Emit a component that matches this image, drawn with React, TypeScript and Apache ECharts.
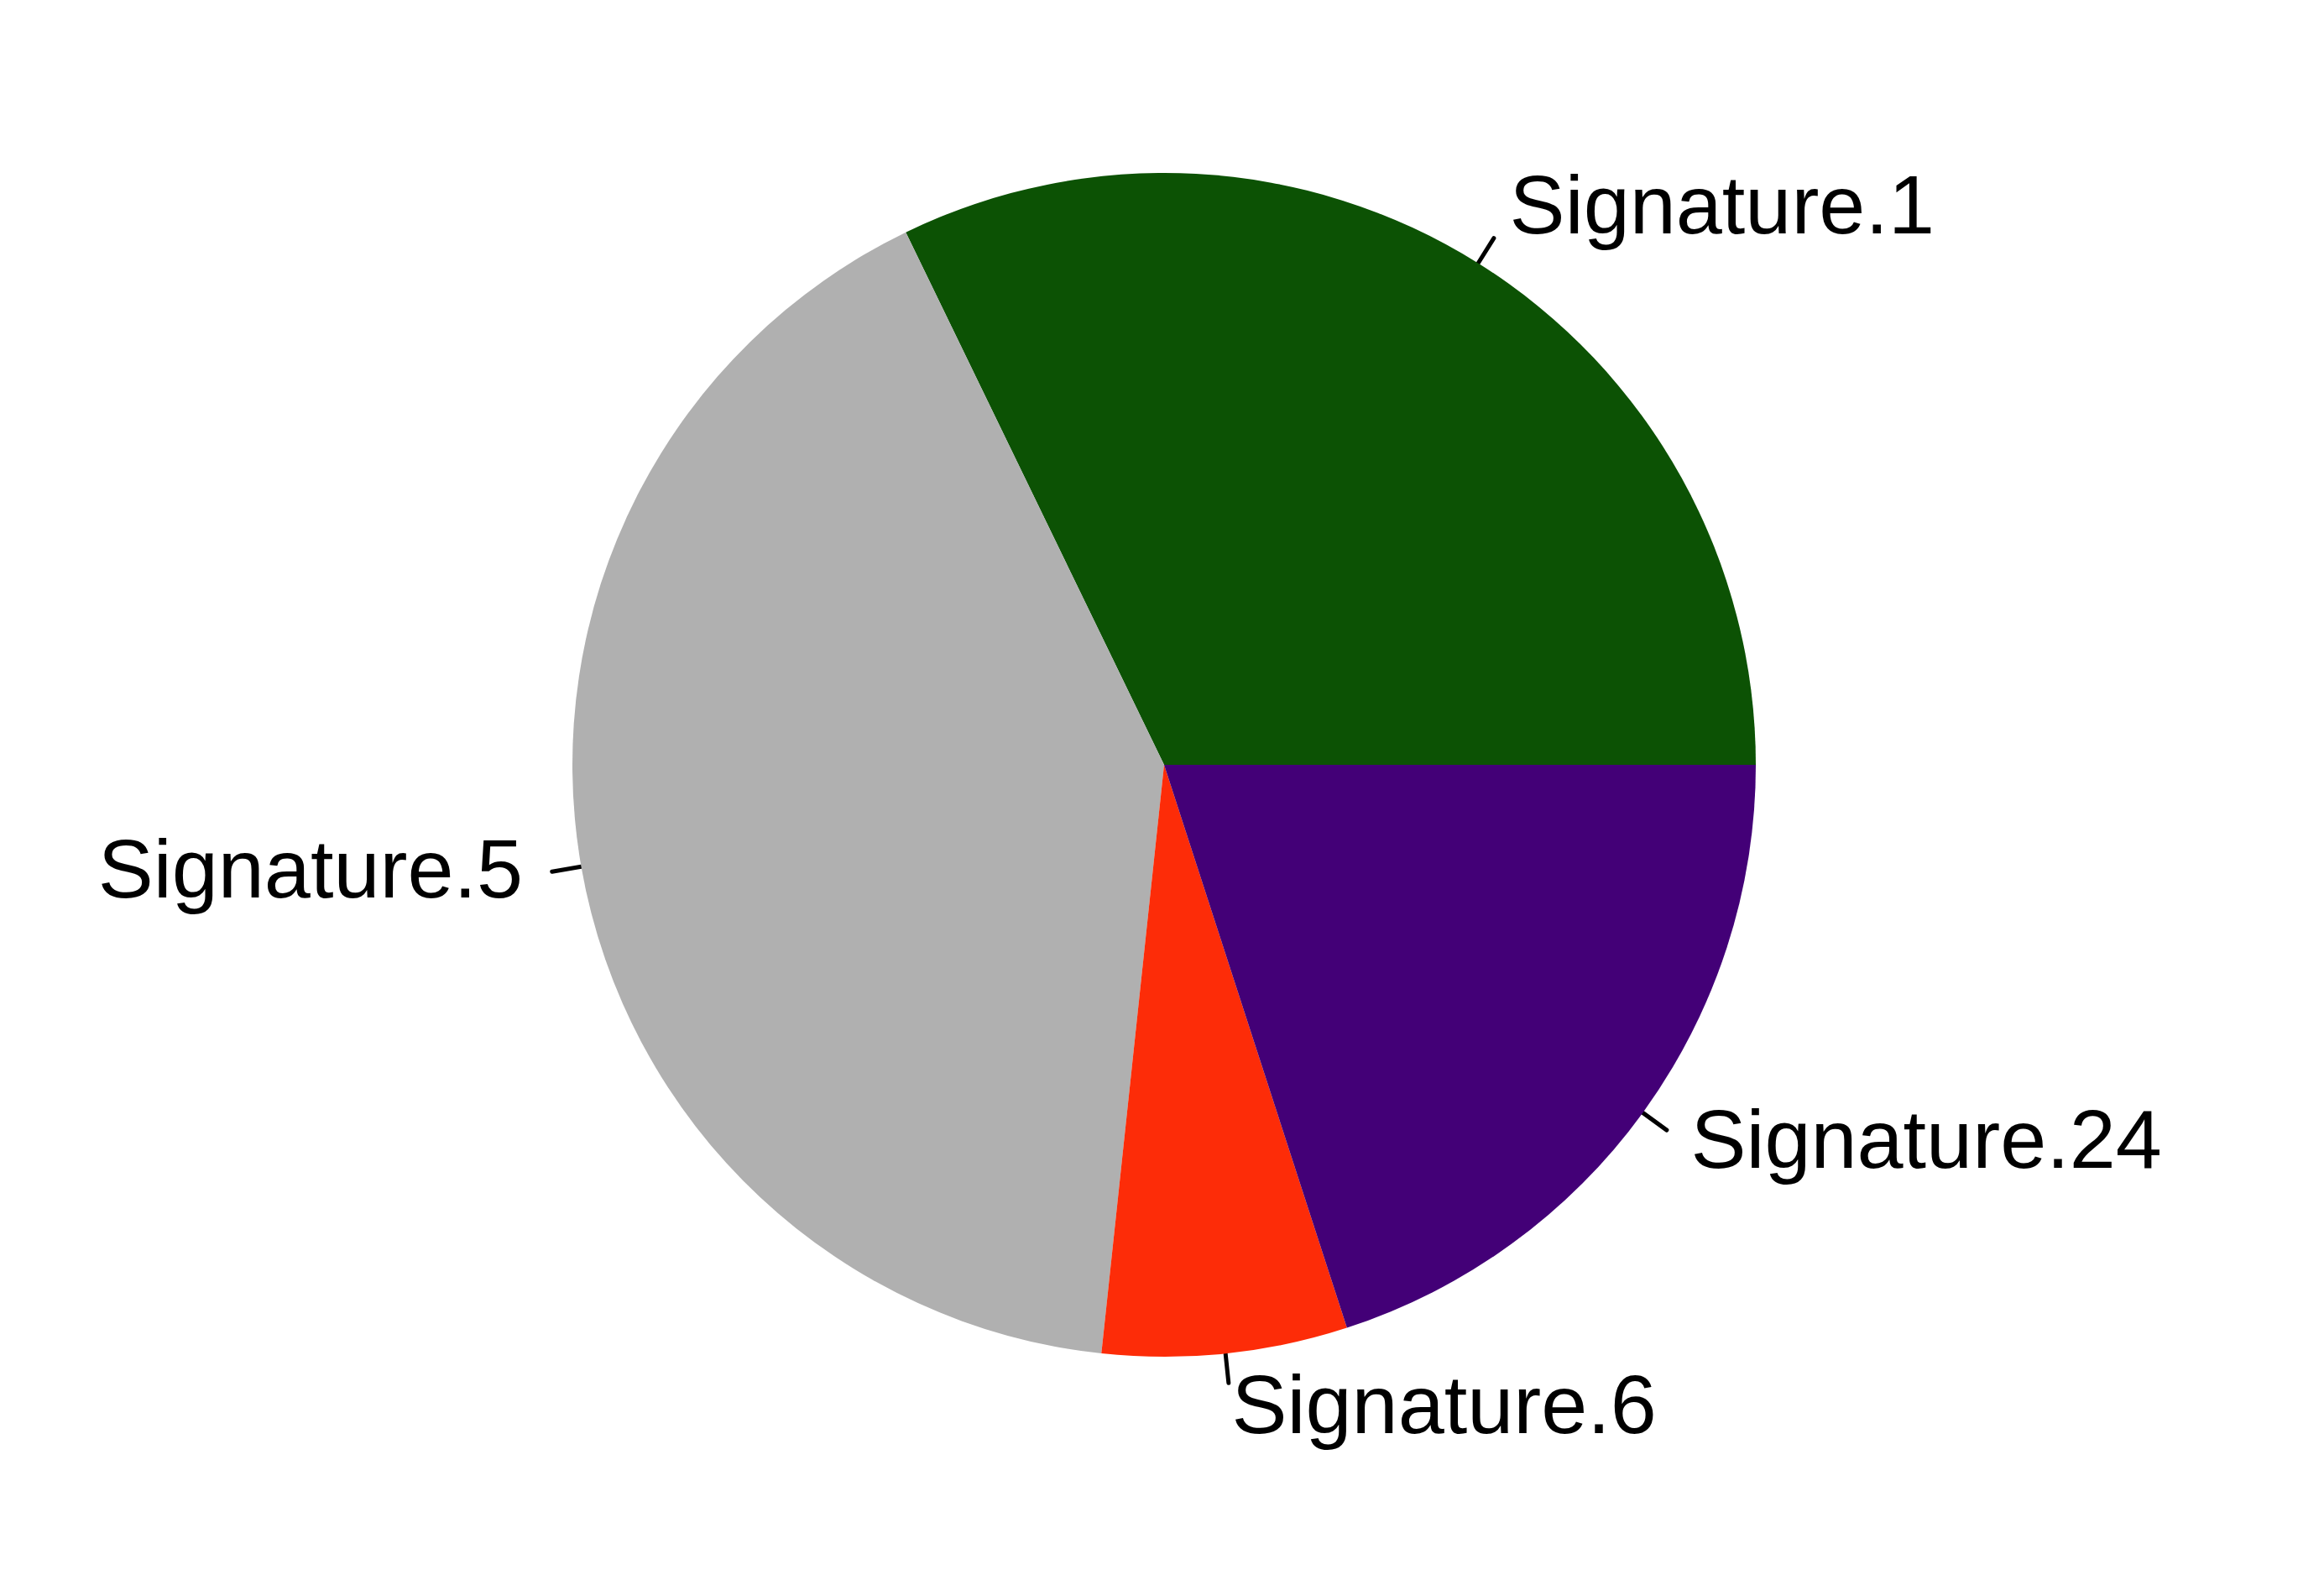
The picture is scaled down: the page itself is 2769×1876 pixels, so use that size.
import React, { useEffect, useRef } from "react";
import * as echarts from "echarts";

const categories = ["Signature.1", "Signature.5", "Signature.6", "Signature.24"];
const values = [32.19, 41.12, 6.69, 20.0];
const colors = ["#0C5204", "#B0B0B0", "#FD2C08", "#430077"];

const W = 2769;
const H = 1876;
const CX = 1387;
const CY = 911;
const R = 705;

export default function App() {
  const ref = useRef<HTMLDivElement>(null);
  useEffect(() => {
    document.body.style.margin = "0";
    if (!ref.current) return;
    const chart = echarts.init(ref.current, null, { renderer: "svg" });
    const total = values.reduce((a, b) => a + b, 0);
    const mids: number[] = [];
    let cum = 0;
    values.forEach((v) => {
      mids.push(((cum + v / 2) / total) * Math.PI * 2);
      cum += v;
    });
    chart.setOption({
      animation: false,
      backgroundColor: "#ffffff",
      series: [
        {
          type: "pie",
          center: [CX, CY],
          radius: [0, R],
          startAngle: 0,
          clockwise: false,
          avoidLabelOverlap: false,
          data: categories.map((name, i) => ({
            name,
            value: values[i],
            itemStyle: { color: colors[i] },
          })),
          itemStyle: { borderWidth: 0 },
          emphasis: { disabled: true },
          label: {
            show: true,
            position: "outside",
            formatter: "{b}",
            color: "#000000",
            fontSize: 99,
            fontFamily: "'Liberation Sans', Arial, sans-serif",
          },
          labelLine: {
            show: true,
            length: 35,
            length2: 0,
            lineStyle: { color: "#000000", width: 5, cap: "round" },
          },
          labelLayout: (params: any) => {
            const a = mids[params.dataIndex];
            const c = Math.cos(a);
            const s = Math.sin(a);
            return {
              x: CX + 1.1 * R * c,
              y: CY - 1.1 * R * s - 10,
              align: c < 0 ? "right" : "left",
              verticalAlign: "middle",
              labelLinePoints: [
                [CX + R * c, CY - R * s],
                [CX + 1.05 * R * c, CY - 1.05 * R * s],
                [CX + 1.05 * R * c, CY - 1.05 * R * s],
              ],
            };
          },
        },
      ],
    });
    return () => chart.dispose();
  }, []);
  return <div ref={ref} style={{ width: W, height: H }} />;
}
